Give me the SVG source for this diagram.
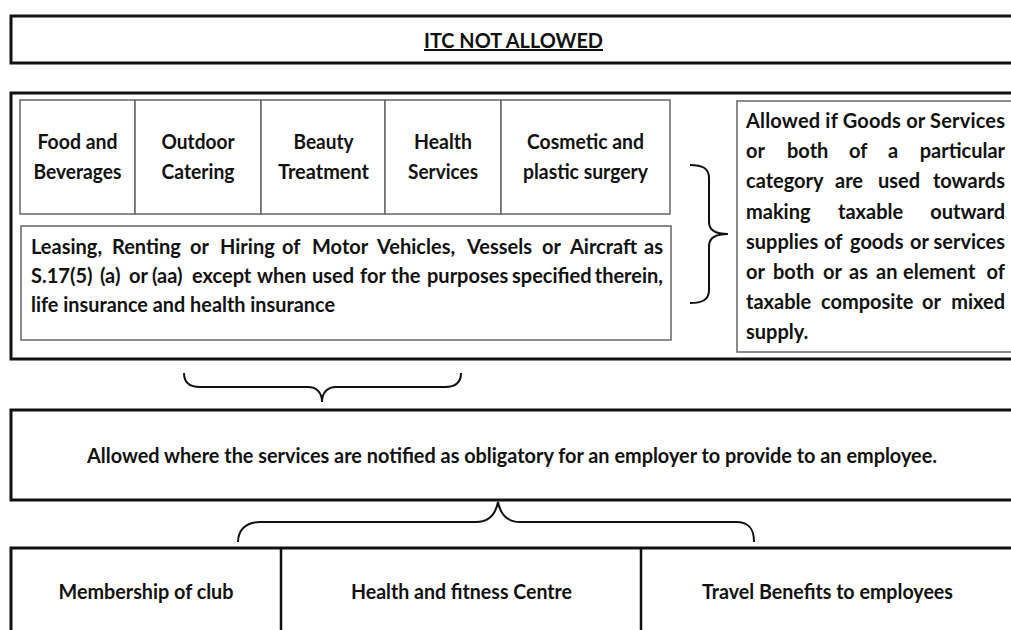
<svg xmlns="http://www.w3.org/2000/svg" width="1011" height="630" viewBox="0 0 1011 630">
<style>
.thick{fill:#fff;stroke:#111;stroke-width:3}
.thin{fill:#fff;stroke:#666;stroke-width:1.5}
.div{stroke:#111;stroke-width:2.5}
.t{font-family:Lato,"Liberation Sans",sans-serif;font-weight:bold;font-size:20px;fill:#111}
.c{text-anchor:middle}
.e{text-anchor:end}
.brace{fill:none;stroke:#111;stroke-width:2}
</style>
<rect width="1011" height="630" fill="#fff"/>
<g id="title">
<rect class="thick" x="11" y="16" width="1005" height="47"/>
<text class="t c" x="513.5" y="48" font-size="25" textLength="179" lengthAdjust="spacingAndGlyphs" text-decoration="underline">ITC NOT ALLOWED</text>
</g>
<g id="not-allowed-panel">
<rect class="thick" x="11" y="93" width="1005" height="266"/>
<g id="food">
<rect class="thin" x="20" y="100" width="115" height="114"/>
<text class="t c" x="77.5" y="149" textLength="80" lengthAdjust="spacingAndGlyphs">Food and</text>
<text class="t c" x="77.5" y="179" textLength="88" lengthAdjust="spacingAndGlyphs">Beverages</text>
</g>
<g id="catering">
<rect class="thin" x="135" y="100" width="126" height="114"/>
<text class="t c" x="198" y="149" textLength="73" lengthAdjust="spacingAndGlyphs">Outdoor</text>
<text class="t c" x="198" y="179" textLength="73" lengthAdjust="spacingAndGlyphs">Catering</text>
</g>
<g id="beauty">
<rect class="thin" x="261" y="100" width="124" height="114"/>
<text class="t c" x="323.5" y="149" textLength="60" lengthAdjust="spacingAndGlyphs">Beauty</text>
<text class="t c" x="323.5" y="179" textLength="91" lengthAdjust="spacingAndGlyphs">Treatment</text>
</g>
<g id="health">
<rect class="thin" x="385" y="100" width="116" height="114"/>
<text class="t c" x="443" y="149" textLength="58" lengthAdjust="spacingAndGlyphs">Health</text>
<text class="t c" x="443" y="179" textLength="70" lengthAdjust="spacingAndGlyphs">Services</text>
</g>
<g id="cosmetic">
<rect class="thin" x="501" y="100" width="169" height="114"/>
<text class="t c" x="585.5" y="149" textLength="117" lengthAdjust="spacingAndGlyphs">Cosmetic and</text>
<text class="t c" x="585.5" y="179" textLength="125" lengthAdjust="spacingAndGlyphs">plastic surgery</text>
</g>
<g id="leasing">
<rect class="thin" x="21" y="226" width="650" height="114"/>
<text class="t" y="254"><tspan x="31">Leasing,</tspan><tspan x="112">Renting</tspan><tspan x="190">or</tspan><tspan x="220">Hiring</tspan><tspan x="282">of</tspan><tspan x="312">Motor</tspan><tspan x="377">Vehicles,</tspan><tspan x="467">Vessels</tspan><tspan x="542">or</tspan><tspan x="570">Aircraft</tspan><tspan class="e" x="663">as</tspan></text>
<text class="t" y="283"><tspan x="31">S.17(5)</tspan><tspan x="100">(a)</tspan><tspan x="129">or</tspan><tspan x="152">(aa)</tspan><tspan x="192">except</tspan><tspan x="257">when</tspan><tspan x="312">used</tspan><tspan x="360">for</tspan><tspan x="391">the</tspan><tspan x="427">purposes</tspan><tspan x="512">specified</tspan><tspan class="e" x="663">therein,</tspan></text>
<text class="t" x="31" y="312" textLength="304" lengthAdjust="spacingAndGlyphs">life insurance and health insurance</text>
</g>
<g id="allowed-if">
<rect class="thin" x="737" y="101" width="290" height="251"/>
<text class="t" x="746" y="128" textLength="259" lengthAdjust="spacing">Allowed if Goods or Services</text>
<text class="t" y="158"><tspan x="746">or</tspan><tspan x="787">both</tspan><tspan x="849">of</tspan><tspan x="888">a</tspan><tspan class="e" x="1005">particular</tspan></text>
<text class="t" y="188"><tspan x="746">category</tspan><tspan x="835">are</tspan><tspan x="878">used</tspan><tspan class="e" x="1005">towards</tspan></text>
<text class="t" y="219"><tspan x="746">making</tspan><tspan x="838">taxable</tspan><tspan class="e" x="1005">outward</tspan></text>
<text class="t" y="249"><tspan x="746">supplies</tspan><tspan x="824">of</tspan><tspan x="850">goods</tspan><tspan x="910">or</tspan><tspan class="e" x="1005">services</tspan></text>
<text class="t" y="279"><tspan x="746">or</tspan><tspan x="773">both</tspan><tspan x="823">or</tspan><tspan x="849">as</tspan><tspan x="876">an</tspan><tspan x="903">element</tspan><tspan class="e" x="1005">of</tspan></text>
<text class="t" y="309"><tspan x="746">taxable</tspan><tspan x="821">composite</tspan><tspan x="922">or</tspan><tspan class="e" x="1005">mixed</tspan></text>
<text class="t" x="746" y="339">supply.</text>
</g>
</g>
<g id="employer-box">
<rect class="thick" x="11" y="410" width="1005" height="90"/>
<text class="t c" x="512" y="463" font-size="21" textLength="850" lengthAdjust="spacingAndGlyphs">Allowed where the services are notified as obligatory for an employer to provide to an employee.</text>
</g>
<g id="employee-benefits">
<rect class="thick" x="11" y="548" width="1005" height="100"/>
<line class="div" x1="281" y1="548" x2="281" y2="640"/>
<line class="div" x1="641" y1="548" x2="641" y2="640"/>
<g id="club"><text class="t c" x="146" y="599" font-size="21" textLength="175" lengthAdjust="spacingAndGlyphs">Membership of club</text></g>
<g id="fitness"><text class="t c" x="461.5" y="599" font-size="21" textLength="221" lengthAdjust="spacingAndGlyphs">Health and fitness Centre</text></g>
<g id="travel"><text class="t c" x="827.5" y="599" font-size="21" textLength="251" lengthAdjust="spacingAndGlyphs">Travel Benefits to employees</text></g>
</g>
<g id="connectors">
<path class="brace" d="M690,165 C702,165 709,168 709,178 L709,222 C709,230 716,234 728,234 C716,234 709,238 709,246 L709,290 C709,300 702,303 690,303"/>
<path class="brace" d="M184,373 C184,383 190,387 200,387 L308,387 C316,387 322,392 322,402 C322,392 328,387 336,387 L445,387 C455,387 461,383 461,373"/>
<path class="brace" d="M238,542 C238,530 246,522 260,522 L476,522 C490,522 496,512 498,502 C500,512 506,522 520,522 L736,522 C750,522 754,530 754,542"/>
</g>
</svg>
